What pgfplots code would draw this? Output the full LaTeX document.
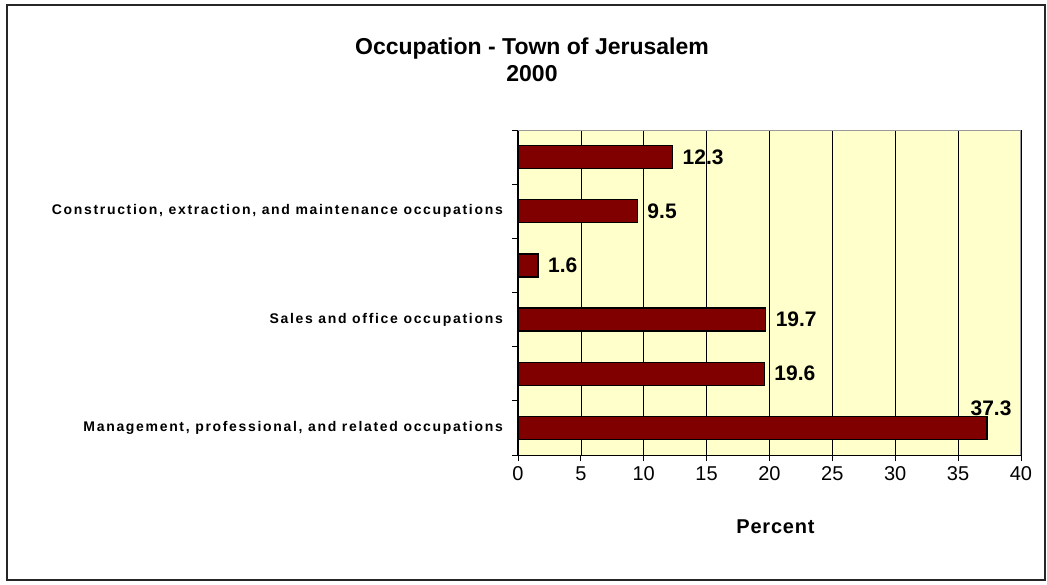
\documentclass[border=0pt]{standalone}
\usepackage{fontspec}
\setmainfont{Liberation Sans}
\newfontfamily\catfont[LetterSpace=12]{Liberation Sans}
\newfontfamily\labfont[LetterSpace=4]{Liberation Sans}
\usepackage{pgfplots}
\pgfplotsset{compat=1.18}
\definecolor{barred}{HTML}{800000}
\definecolor{plotbg}{HTML}{FFFFCC}

\begin{document}
\begin{tikzpicture}
\path[use as bounding box] (-518pt,-129pt) rectangle (529pt,455pt);
\draw[line width=1.2pt, black!85] (-511pt,-125pt) rectangle (527pt,450pt);
\node[font=\bfseries\fontsize{23}{27}\selectfont, anchor=base] at (14pt,400pt) {Occupation - Town of Jerusalem};
\node[font=\bfseries\fontsize{23}{27}\selectfont, anchor=base] at (14pt,373pt) {2000};
\begin{axis}[
    at={(0,0)}, anchor=south west,
    scale only axis, width=503pt, height=325pt,
    xbar, bar width=23pt,
    xmin=0, xmax=40, xtick={0,5,...,40},
    ymin=-0.5, ymax=5.5,
    ytick={0,...,5},
    yticklabels={{Management, professional, and related occupations},{},{Sales and office occupations},{},{Construction, extraction, and maintenance occupations},{}},
    minor ytick={-0.5,0.5,...,5.5},
    axis x line*=bottom, axis y line*=left,
    axis line style={black, line width=1pt},
    tick align=outside,
    major tick length=6pt, minor tick length=6pt,
    every major y tick/.style={draw=none},
    every minor y tick/.style={black, line width=0.8pt},
    every major x tick/.style={black, line width=0.8pt},
    xmajorgrids,
    major x grid style={black, line width=0.6pt},
    axis background/.style={fill=plotbg},
    /pgf/number format/assume math mode=true,
    xticklabel style={font=\fontsize{20}{24}\selectfont, yshift=-2pt},
    yticklabel style={font=\catfont\bfseries\fontsize{14}{16}\selectfont, anchor=east, inner sep=0pt, xshift=-9pt},
    xlabel={Percent},
    xlabel style={font=\labfont\bfseries\fontsize{20}{24}\selectfont, at={(axis description cs:0.5,0)}, anchor=center, yshift=-72pt, xshift=6pt},
    nodes near coords={\pgfmathprintnumber[fixed,precision=1,fixed zerofill]{\pgfplotspointmeta}},
    nodes near coords style={font=\bfseries\fontsize{21}{25}\selectfont},
    coordinate style/.condition={\coordindex>0}{anchor=west, xshift=6pt},
    coordinate style/.condition={\coordindex==0}{anchor=south, xshift=4pt, yshift=8pt},
]
\addplot[fill=barred, draw=black, line width=1.4pt] coordinates {
    (37.3,0) (19.6,1) (19.7,2) (1.6,3) (9.5,4) (12.3,5)
};
\draw[gray!80, line width=1pt] (rel axis cs:0,1) -- (rel axis cs:1,1) -- (rel axis cs:1,0);
\end{axis}
\end{tikzpicture}
\end{document}
